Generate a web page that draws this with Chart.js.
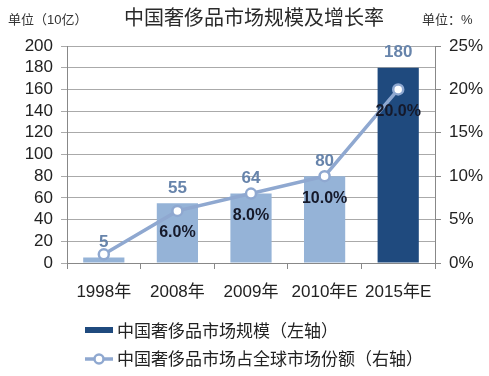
<!DOCTYPE html>
<html><head><meta charset="utf-8">
<script src="https://cdn.jsdelivr.net/npm/chart.js@4.4.0/dist/chart.umd.min.js"></script>
<style>html,body{margin:0;padding:0;background:#fff;}canvas{display:block;}</style>
</head><body>
<canvas id="c" width="489" height="376"></canvas>
<script>
const categories = ['1998年', '2008年', '2009年', '2010年E', '2015年E'];
const marketSize = [5, 55, 64, 80, 180];          // 10亿, left axis
const globalShare = [1, 6, 8, 10, 20];            // %, right axis
const leftAxisMax = 200, leftAxisStep = 20;
const rightAxisMax = 25, rightAxisStep = 5;
const titleText = '中国奢侈品市场规模及增长率';
const leftUnit = '单位（10亿）';
const rightUnit = '单位：%';
const legendBar = '中国奢侈品市场规模（左轴）';
const legendLine = '中国奢侈品市场占全球市场份额（右轴）';

const FONT = '"Liberation Sans", Arial, "Noto Sans CJK SC", sans-serif';
const LIGHT = '#95B3D7', DARK = '#1F4A7E', LINEC = '#8FA8D0';

const extras = {
  id: 'extras',
  afterDatasetsDraw(chart) {
    const ctx = chart.ctx;
    ctx.save();
    const barMeta = chart.getDatasetMeta(1);
    ctx.textAlign = 'center'; ctx.textBaseline = 'middle';
    ctx.font = 'bold 17px ' + FONT;
    ctx.fillStyle = '#6784AB';
    barMeta.data.forEach((el, i) => {
      ctx.fillText(String(marketSize[i]), el.x, el.y - 15);
    });
    const lineMeta = chart.getDatasetMeta(0);
    ctx.font = 'bold 16px ' + FONT;
    ctx.fillStyle = '#15192A';
    lineMeta.data.forEach((el, i) => {
      if (i === 0) return;
      ctx.fillText(globalShare[i].toFixed(1) + '%', el.x, el.y + 22);
    });
    ctx.restore();
  },
  afterDraw(chart) {
    const ctx = chart.ctx;
    ctx.save();
    ctx.fillStyle = '#2a2a2a';
    ctx.textBaseline = 'middle';
    ctx.textAlign = 'center';
    ctx.font = '20px "Noto Sans CJK SC", sans-serif';
    ctx.fillText(titleText, 254, 17);
    ctx.font = '13px ' + FONT;
    ctx.fillStyle = '#333';
    ctx.textAlign = 'left';
    ctx.fillText(leftUnit, 8, 20);
    ctx.fillText(rightUnit, 422, 20);
    // legend
    ctx.font = '17px ' + FONT;
    ctx.fillStyle = DARK;
    ctx.fillRect(85, 327, 28, 6);
    ctx.fillStyle = '#222';
    ctx.fillText(legendBar, 117, 332);
    ctx.strokeStyle = LINEC; ctx.lineWidth = 3.5;
    ctx.beginPath(); ctx.moveTo(85, 359); ctx.lineTo(113, 359); ctx.stroke();
    ctx.beginPath(); ctx.arc(99, 359, 4.5, 0, Math.PI * 2);
    ctx.fillStyle = '#fff'; ctx.fill(); ctx.lineWidth = 2.5; ctx.stroke();
    ctx.fillStyle = '#222';
    ctx.fillText(legendLine, 117, 360);
    ctx.restore();
  }
};

new Chart(document.getElementById('c'), {
  type: 'bar',
  data: {
    labels: categories,
    datasets: [
      {
        type: 'line', data: globalShare, yAxisID: 'y1', order: 0,
        borderColor: LINEC, borderWidth: 3.5, tension: 0,
        pointRadius: 5, pointBorderWidth: 2.5, pointBackgroundColor: '#fff', pointBorderColor: LINEC
      },
      {
        type: 'bar', data: marketSize, yAxisID: 'y', order: 1,
        backgroundColor: [LIGHT, LIGHT, LIGHT, LIGHT, DARK],
        categoryPercentage: 1, barPercentage: 0.56
      }
    ]
  },
  plugins: [extras],
  options: {
    responsive: false, animation: false,
    layout: { padding: { top: 46, left: 0, right: 0, bottom: 0 } },
    plugins: { legend: { display: false }, tooltip: { enabled: false }, title: { display: false } },
    scales: {
      x: {
        grid: { drawOnChartArea: false, drawTicks: true, tickLength: 6, color: '#888', offset: true },
        border: { color: '#888' },
        ticks: { font: { size: 17, family: FONT }, color: '#222', padding: 13, maxRotation: 0, autoSkip: false },
        afterFit(s) { s.height = 113; }
      },
      y: {
        position: 'left', min: 0, max: leftAxisMax,
        ticks: { stepSize: leftAxisStep, autoSkip: false, font: { size: 17, family: FONT }, color: '#222', padding: 8 },
        grid: { color: '#AAAAAA', tickLength: 6 },
        border: { color: '#888' },
        afterFit(s) { s.width = 67; }
      },
      y1: {
        position: 'right', min: 0, max: rightAxisMax,
        ticks: { stepSize: rightAxisStep, autoSkip: false, font: { size: 17, family: FONT }, color: '#222', padding: 8, callback: v => v + '%' },
        grid: { drawOnChartArea: false, color: '#888', tickLength: 6 },
        border: { color: '#888' },
        afterFit(s) { s.width = 54; }
      }
    }
  }
});
</script>
</body></html>
